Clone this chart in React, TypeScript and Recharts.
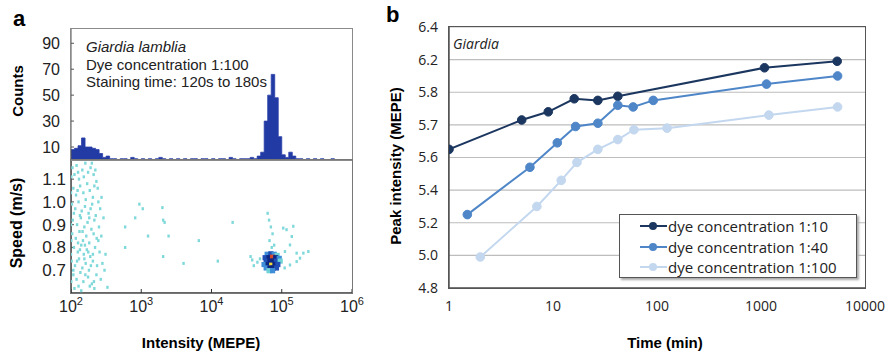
import { AreaChart, Area, XAxis, YAxis, ScatterChart, Scatter, LineChart, Line, CartesianGrid } from 'recharts';

const FONT_A = '"Liberation Sans", Arial, sans-serif';
const FONT_B = '"Open Sans", "Noto Sans", sans-serif';

// panel a, top: histogram of intensities, bins of 0.05 in log10 starting at 10^2
const histStartExp = 2;
const histStepExp = 0.05;
const histCounts = [
  8, 9, 11, 17, 10, 10, 9, 8, 5, 2,
  3, 1, 1, 0, 1, 1, 0, 2, 1, 0,
  1, 0, 1, 0, 1, 2, 1, 0, 1, 0,
  1, 0, 1, 0, 1, 1, 0, 1, 1, 0,
  1, 0, 1, 1, 0, 2, 1, 0, 1, 1,
  1, 2, 1, 3, 6, 30, 50, 66, 48, 18,
  4, 2, 6, 3, 1, 1, 0, 1, 0, 1,
  0, 1, 0, 0, 1, 0, 0, 0, 0, 0,
];
const countTicks = [10, 30, 50, 70, 90];
const intensityTicks = [1e2, 1e3, 1e4, 1e5, 1e6];
const intensityExp = ['2', '3', '4', '5', '6'];

// panel a, bottom: sparse events [intensity, speed]
const sparsePoints: [number, number][] = [
  [105, 1.15], [112, 1.12], [120, 1.16], [130, 1.1], [145, 1.14], [160, 1.17], [175, 1.13], [190, 1.15], [210, 1.12], [230, 1.09],
  [101, 1.11], [126, 1.13], [152, 1.11], [198, 1.17], [222, 1.14],
  [108, 1.06], [118, 1.03], [135, 1.07], [150, 1.04], [170, 1.08], [185, 1.05], [205, 1.02], [240, 1.06],
  [100, 1.04], [124, 1.05], [162, 1.01], [215, 1.07], [272, 1.02],
  [103, 0.99], [115, 0.97], [128, 1.0], [142, 0.96], [158, 0.98], [178, 0.95], [200, 0.99], [225, 0.94], [260, 0.97],
  [110, 0.95], [134, 0.94], [190, 0.97], [245, 1.0],
  [106, 0.92], [122, 0.9], [138, 0.93], [155, 0.89], [172, 0.91], [195, 0.88], [215, 0.92], [290, 0.93],
  [100, 0.9], [146, 0.87], [182, 0.93], [250, 0.89],
  [104, 0.86], [117, 0.84], [132, 0.87], [148, 0.83], [165, 0.85], [182, 0.82], [210, 0.86], [245, 0.83], [270, 0.85],
  [101, 0.83], [126, 0.82], [158, 0.81], [232, 0.84],
  [110, 0.8], [125, 0.78], [140, 0.81], [152, 0.77], [168, 0.79], [188, 0.76], [220, 0.8], [255, 0.78], [310, 0.77],
  [100, 0.77], [134, 0.79], [176, 0.78], [205, 0.77],
  [102, 0.74], [114, 0.72], [130, 0.75], [145, 0.71], [162, 0.73], [180, 0.7], [205, 0.74], [235, 0.72], [280, 0.73],
  [108, 0.7], [122, 0.74], [155, 0.75], [192, 0.72],
  [108, 0.68], [120, 0.66], [136, 0.69], [150, 0.65], [175, 0.67], [198, 0.64], [230, 0.68], [265, 0.66], [300, 0.7],
  [101, 0.65], [128, 0.63], [160, 0.68], [212, 0.65],
  [112, 0.62], [140, 0.61], [185, 0.63], [215, 0.62], [330, 0.625],
  [590, 0.89], [820, 0.93], [940, 0.99], [1050, 0.97], [2000, 0.975], [2050, 0.92], [2150, 0.91], [1250, 0.85],
  [2450, 0.85], [6600, 0.83], [590, 0.8], [2050, 0.76], [4000, 0.73], [12300, 0.74], [20000, 0.91],
  [36000, 0.76], [40000, 0.72], [38000, 0.745], [45000, 0.735], [49000, 0.75],
  [63000, 0.95], [66000, 0.92], [70000, 0.89], [74000, 0.86], [67000, 0.83], [78000, 0.81], [72000, 0.8],
  [105000, 0.885], [117000, 0.878], [146000, 0.893], [139000, 0.848], [131000, 0.811], [111000, 0.782],
  [163000, 0.775], [203000, 0.775], [239000, 0.782], [182000, 0.753], [163000, 0.738], [131000, 0.723], [110000, 0.71],
];

// panel a, bottom: dense core [intensity, speed, density level]
const corePoints: [number, number, number][] = [
  [62000, 0.77, 1], [70000, 0.772, 2], [78000, 0.77, 1], [86000, 0.765, 0],
  [58000, 0.755, 2], [66000, 0.755, 3], [74000, 0.757, 4], [82000, 0.755, 3], [92000, 0.752, 1],
  [60000, 0.74, 2], [68000, 0.74, 3], [76000, 0.74, 3], [84000, 0.74, 2], [95000, 0.74, 0],
  [56000, 0.725, 1], [64000, 0.725, 3], [72000, 0.722, 5], [80000, 0.725, 3], [88000, 0.725, 2],
  [60000, 0.71, 1], [68000, 0.71, 3], [76000, 0.71, 3], [84000, 0.71, 2],
  [66000, 0.698, 0], [74000, 0.698, 1],
];
const levelColors = ['#6fd3d6', '#3f8fd8', '#1f4fb5', '#0e2783', '#d8482b', '#f0df3a'];
const speedTicks = [0.7, 0.8, 0.9, 1.0, 1.1];

// panel b: peak intensity vs time
const timeTicks = [1, 10, 100, 1000, 10000];
const peakTicks = [4.8, 5.0, 5.2, 5.4, 5.6, 5.8, 6.0, 6.2, 6.4];
const peakTickLabels = ['4.8', '5.0', '5.2', '5.4', '5.6', '5.7', '5.8', '6.2', '6.4'];
const seriesNames = ['dye concentration 1:10', 'dye concentration 1:40', 'dye concentration 1:100'];
const seriesColors = ['#1b365f', '#4e86c8', '#c3d7ef'];
const time10 = [1, 5, 9, 16, 27, 42, 1080, 5400];
const peak10 = [5.65, 5.83, 5.88, 5.96, 5.95, 5.975, 6.15, 6.19];
const time40 = [1.5, 6, 11, 16.5, 27, 42, 59, 92, 1130, 5450];
const peak40 = [5.25, 5.54, 5.69, 5.79, 5.81, 5.92, 5.91, 5.95, 6.05, 6.1];
const time100 = [2, 7, 12, 17, 27, 42, 60, 125, 1190, 5450];
const peak100 = [4.99, 5.3, 5.46, 5.57, 5.65, 5.71, 5.77, 5.78, 5.86, 5.91];

const histData = histCounts
  .map((c, i) => ({ x: Math.pow(10, histStartExp + i * histStepExp), c }))
  .concat([{ x: 1e6, c: 0 }]);
const sparseData = sparsePoints.map(([x, y]) => ({ x, y }));
const coreData = corePoints.map(([x, y, level]) => ({ x, y, level }));
const lineSets = [
  time10.map((t, i) => ({ t, v: peak10[i] })),
  time40.map((t, i) => ({ t, v: peak40[i] })),
  time100.map((t, i) => ({ t, v: peak100[i] })),
];

function PowerTick(props: any) {
  const { x, y, payload } = props;
  const idx = intensityTicks.indexOf(payload.value);
  return (
    <text x={x} y={y + 19} textAnchor="middle" fontFamily={FONT_A} fontSize={16} fill="#222">
      10<tspan dy={-7} fontSize={11}>{intensityExp[idx]}</tspan>
    </text>
  );
}

function SparseDot(props: any) {
  const { cx, cy } = props;
  return <rect x={cx - 1.2} y={cy - 1.5} width={2.4} height={3} fill="#7fd8da" />;
}

function CoreDot(props: any) {
  const { cx, cy, payload } = props;
  return <rect x={cx - 2.6} y={cy - 2.6} width={5.2} height={5.2} fill={levelColors[payload.level]} />;
}

function LegendBox() {
  return (
    <div style={{ position: 'absolute', left: 619, top: 214, width: 236, height: 62, border: '1px solid #555', boxShadow: '2px 2px 2px #aaa', background: '#fff', fontFamily: FONT_B, fontSize: 15, color: '#222' }}>
      {seriesNames.map((name, i) => (
        <div key={name} style={{ position: 'absolute', left: 20, top: 1 + i * 20.5, height: 20, display: 'flex', alignItems: 'center', whiteSpace: 'nowrap' }}>
          <svg width={27} height={12}>
            <line x1={0} y1={6} x2={27} y2={6} stroke={seriesColors[i]} strokeWidth={2} />
            <circle cx={13} cy={6} r={4} fill={seriesColors[i]} />
          </svg>
          <span style={{ marginLeft: 1 }}>{name}</span>
        </div>
      ))}
    </div>
  );
}

const abs = (left: number, top: number, extra: any = {}) => ({ position: 'absolute' as const, left, top, ...extra });
const frame = (left: number, top: number, width: number, height: number, border: string) =>
  abs(left, top, { width, height, border, boxSizing: 'border-box', pointerEvents: 'none' });

export default function App() {
  return (
    <div style={{ position: 'absolute', left: 0, top: 0, width: 888, height: 351, background: '#fff', overflow: 'hidden' }}>
      {/* panel a: histogram */}
      <div style={abs(0, 0)}>
        <AreaChart width={380} height={161} data={histData} margin={{ top: 29, right: 28, bottom: 1, left: 0 }}>
          <XAxis dataKey="x" type="number" scale="log" domain={[1e2, 1e6]} allowDataOverflow ticks={intensityTicks}
            height={0} tick={false} tickSize={-4} axisLine={{ stroke: '#333', strokeWidth: 1.5 }} tickLine={{ stroke: '#333' }} />
          <YAxis type="number" domain={[0, 101]} ticks={countTicks} interval={0} width={71} tickSize={-3} tickMargin={14}
            axisLine={{ stroke: '#555' }} tickLine={{ stroke: '#555' }}
            tick={{ fontFamily: FONT_A, fontSize: 16, fill: '#222' }} />
          <Area type="stepAfter" dataKey="c" stroke="#2a3fa8" strokeWidth={0.8} fill="#223aa4" fillOpacity={1} isAnimationActive={false} />
        </AreaChart>
      </div>

      {/* panel a: speed vs intensity */}
      <div style={abs(0, 150)}>
        <ScatterChart width={380} height={201} margin={{ top: 10, right: 28, bottom: 0, left: 0 }}>
          <XAxis dataKey="x" type="number" scale="log" domain={[1e2, 1e6]} allowDataOverflow ticks={intensityTicks}
            height={58} tickSize={-4} tickMargin={4} interval={0} tick={<PowerTick />}
            axisLine={{ stroke: '#333', strokeWidth: 1.5 }} tickLine={{ stroke: '#333' }} />
          <YAxis dataKey="y" type="number" domain={[0.6, 1.184]} allowDataOverflow ticks={speedTicks} interval={0} width={71} tickSize={-3} tickMargin={8}
            tickFormatter={(v: number) => v.toFixed(1)} axisLine={{ stroke: '#333', strokeWidth: 1.5 }} tickLine={{ stroke: '#555' }}
            tick={{ fontFamily: FONT_A, fontSize: 17, fill: '#222' }} />
          <Scatter data={sparseData} shape={<SparseDot />} isAnimationActive={false} />
          <Scatter data={coreData} shape={<CoreDot />} isAnimationActive={false} />
        </ScatterChart>
      </div>
      <div style={frame(70, 28, 283, 133, '1px solid #8a8a8a')} />
      <div style={frame(70, 159, 283, 135, '1px solid #777')} />

      {/* panel b */}
      <div style={abs(380, 0)}>
        <LineChart width={508} height={351} margin={{ top: 27, right: 23, bottom: 0, left: 0 }}>
          <CartesianGrid vertical={false} stroke="#bdbdbd" strokeWidth={1.2} />
          <XAxis dataKey="t" type="number" scale="log" domain={[1, 10000]} allowDataOverflow ticks={timeTicks} interval={0}
            height={63} tickSize={0} tickMargin={13} axisLine={{ stroke: '#555', strokeWidth: 1.5 }}
            tick={{ fontFamily: FONT_B, fontSize: 14, fill: '#222' }} />
          <YAxis type="number" domain={[4.8, 6.4]} ticks={peakTicks} interval={0} width={69} tickSize={0} tickMargin={11}
            tickFormatter={(v: number) => peakTickLabels[peakTicks.indexOf(v)]} axisLine={{ stroke: '#555', strokeWidth: 1.5 }}
            tick={{ fontFamily: FONT_B, fontSize: 14, fill: '#222' }} />
          {lineSets.map((d, i) => (
            <Line key={seriesNames[i]} data={d} dataKey="v" name={seriesNames[i]} stroke={seriesColors[i]} strokeWidth={2}
              dot={{ r: 4.3, fill: seriesColors[i], stroke: seriesColors[i], strokeWidth: 1 }} isAnimationActive={false} />
          ))}
        </LineChart>
      </div>
      <div style={frame(448, 26, 418, 263, '1.5px solid #555')} />
      <LegendBox />

      {/* texts */}
      <div style={abs(13, 6, { fontFamily: FONT_A, fontWeight: 'bold', fontSize: 22 })}>a</div>
      <div style={abs(386, 2, { fontFamily: FONT_A, fontWeight: 'bold', fontSize: 22 })}>b</div>
      <div style={abs(86, 38, { fontFamily: FONT_A, fontSize: 15, lineHeight: '17.5px', color: '#222' })}>
        <div style={{ fontStyle: 'italic' }}>Giardia lamblia</div>
        <div>Dye concentration 1:100</div>
        <div>Staining time: 120s to 180s</div>
      </div>
      <div style={abs(453, 34, { fontFamily: FONT_B, fontSize: 14, fontStyle: 'italic', color: '#222' })}>Giardia</div>
      <div style={abs(17, 91, { fontFamily: FONT_A, fontWeight: 'bold', fontSize: 15, transform: 'translate(-50%, -50%) rotate(-90deg)', whiteSpace: 'nowrap' })}>Counts</div>
      <div style={abs(17, 223, { fontFamily: FONT_A, fontWeight: 'bold', fontSize: 16, transform: 'translate(-50%, -50%) rotate(-90deg)', whiteSpace: 'nowrap' })}>Speed (m/s)</div>
      <div style={abs(201, 342, { fontFamily: FONT_A, fontWeight: 'bold', fontSize: 15, transform: 'translate(-50%, -50%)', whiteSpace: 'nowrap' })}>Intensity (MEPE)</div>
      <div style={abs(395, 166, { fontFamily: FONT_A, fontWeight: 'bold', fontSize: 15, transform: 'translate(-50%, -50%) rotate(-90deg)', whiteSpace: 'nowrap' })}>Peak intensity (MEPE)</div>
      <div style={abs(665, 342, { fontFamily: FONT_A, fontWeight: 'bold', fontSize: 15, transform: 'translate(-50%, -50%)', whiteSpace: 'nowrap' })}>Time (min)</div>
    </div>
  );
}
